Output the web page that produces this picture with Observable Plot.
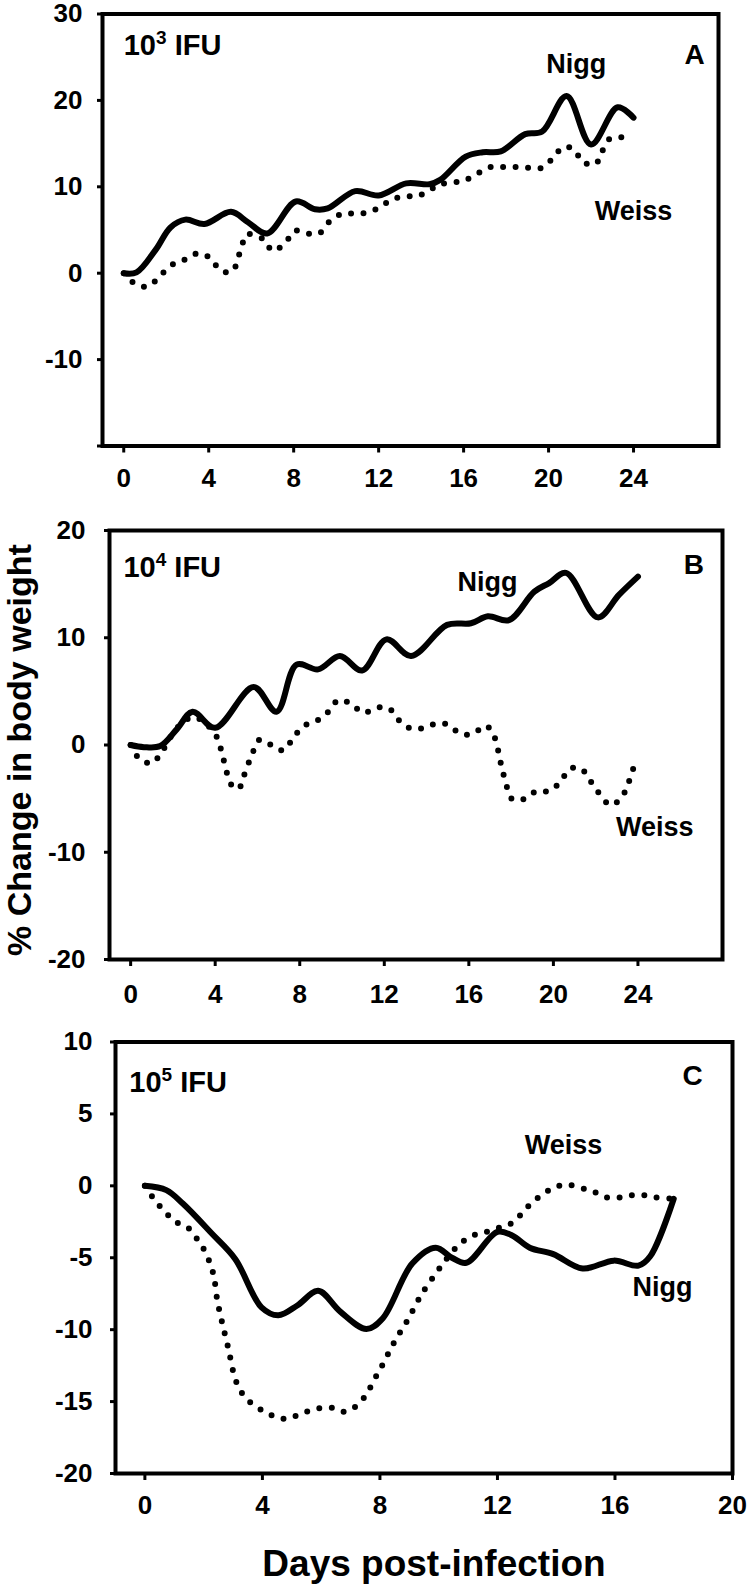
<!DOCTYPE html>
<html>
<head>
<meta charset="utf-8">
<script src="https://cdn.jsdelivr.net/npm/d3@7"></script>
<script src="https://cdn.jsdelivr.net/npm/@observablehq/plot@0.6"></script>
<style>
  body { margin: 0; background: #fff; }
  #root { position: relative; width: 750px; height: 1588px; font-family: "Liberation Sans", Arial, sans-serif; font-weight: bold; color: #000; }
  .panel { position: absolute; left: 0; }
  .ytitle { position: absolute; white-space: nowrap; font-size: 34px; line-height: 34px; transform: translate(-50%, -50%) rotate(-90deg); z-index: 5; }
  .xtitle { position: absolute; white-space: nowrap; font-size: 37px; line-height: 37px; transform: translateX(-50%); z-index: 5; }
</style>
</head>
<body>
<div id="root"></div>
<script>
// ---------- Panel A: 10^3 IFU ----------
const daysNiggA = [0,0.6,1.5,2.2,2.9,3.8,5.05,5.85,6.75,8.1,9.0,9.6,10.9,12.0,13.3,14.4,14.9,16.1,16.9,17.75,18.9,19.7,20.85,22.0,23.25,24];
const pctNiggA  = [0,0.1,2.7,5.3,6.2,5.7,7.1,5.9,4.6,8.3,7.4,7.5,9.5,9.0,10.4,10.3,10.8,13.5,14.0,14.1,16.1,16.4,20.5,14.9,19.2,18.0];
const daysWeissA = [0,0.6,1.17,1.75,2.3,2.9,3.5,4.05,4.55,5.1,5.55,5.8,6.6,7.0,7.6,8.05,8.65,9.2,9.7,10.3,10.9,11.45,12.1,12.6,13.25,13.8,14.4,14.9,15.55,16.1,16.7,17.3,17.9,18.5,19.1,19.7,20.2,20.7,21.2,21.6,22.2,22.5,22.9,23.6];
const pctWeissA  = [0,-1.35,-1.5,-0.2,1.0,1.6,2.3,1.8,0.35,0.2,3.1,4.5,3.9,2.6,3.5,4.9,4.6,4.6,6.0,6.9,6.9,7.0,7.7,8.5,8.9,8.9,9.6,10.3,10.5,10.8,11.6,12.3,12.3,12.3,12.2,12.2,13.3,14.6,14.3,12.9,12.6,14.0,15.6,15.7];

// ---------- Panel B: 10^4 IFU ----------
const daysNiggB = [0,0.63,1.4,2.2,2.93,4.0,5.82,6.9,7.85,8.87,9.9,10.95,12.1,13.27,14.97,16.1,16.9,17.9,19.1,19.8,20.6,22.1,23.1,24];
const pctNiggB  = [0,-0.2,-0.1,1.5,3.1,1.6,5.4,3.1,7.5,7.05,8.3,6.95,9.85,8.3,11.2,11.35,12.0,11.65,14.3,15.1,16.05,11.9,14.0,15.7];
const daysWeissB = [0,0.4,1.0,1.47,2.2,3.0,4.0,4.4,4.76,5.1,5.37,5.8,6.1,6.66,7.24,7.7,8.2,8.75,9.3,9.84,10.45,11.0,11.6,12.2,12.7,13.3,13.9,14.45,15.0,15.6,16.2,16.8,17.2,17.5,17.8,18.05,18.6,19.2,19.8,20.3,20.8,21.3,21.8,22.2,22.7,23.2,23.5,23.9];
const pctWeissB  = [0,-1.25,-1.7,-0.65,1.6,2.6,1.0,-1.4,-3.7,-4.1,-2.8,-0.6,0.5,0.0,-0.5,0.7,1.8,2.2,3.0,4.2,3.8,3.0,3.45,3.45,2.3,1.5,1.6,2.0,1.9,1.05,1.05,1.8,0.8,-1.6,-3.9,-5.05,-5.05,-4.3,-4.3,-3.5,-2.2,-2.2,-3.5,-4.6,-5.6,-4.95,-3.8,-1.4];

// ---------- Panel C: 10^5 IFU ----------
const daysNiggC = [0,0.73,1.3,2.27,3.08,3.97,4.54,5.2,5.9,6.65,7.54,8.1,9.1,9.9,10.45,10.94,12.0,12.5,13.1,13.9,14.9,15.96,16.8,17.2,18.0];
const pctNiggC  = [0,-0.3,-1.25,-3.3,-5.1,-8.45,-9.0,-8.3,-7.3,-8.75,-9.95,-9.2,-5.4,-4.3,-5.0,-5.35,-3.2,-3.45,-4.3,-4.75,-5.75,-5.2,-5.55,-4.9,-0.9];
const daysWeissC = [0,0.32,0.68,1.05,1.46,1.78,2.03,2.22,2.35,2.46,2.64,2.84,3.03,3.19,3.45,3.86,4.26,4.7,5.07,5.5,5.96,6.43,6.8,7.2,7.54,7.8,8.05,8.48,8.95,9.43,9.97,10.3,10.66,11.1,11.54,12.0,12.4,12.75,13.13,13.6,14.0,14.4,14.88,15.27,15.7,16.2,16.6,17.0,17.4,18.0];
const pctWeissC  = [0,-0.95,-1.8,-2.5,-2.9,-3.7,-4.5,-5.4,-6.3,-7.9,-9.6,-11.3,-13.1,-14.0,-14.8,-15.45,-15.9,-16.2,-16.05,-15.7,-15.45,-15.45,-15.7,-15.3,-14.5,-13.5,-12.6,-10.9,-9.3,-7.5,-5.9,-5.0,-4.15,-3.5,-3.25,-2.95,-2.7,-2.1,-1.25,-0.5,-0.05,0.07,-0.17,-0.4,-0.8,-0.8,-0.65,-0.65,-0.8,-0.9];

// Tick values
const xTicksAB = [0,4,8,12,16,20,24];
const xTicksC  = [0,4,8,12,16,20];
const yTicksA  = [-20,-10,0,10,20,30];
const yTicksB  = [-20,-10,0,10,20];
const yTicksC  = [-20,-15,-10,-5,0,5,10];

// Text
const panelLetters = ["A","B","C"];
const doseExponents = ["3","4","5"];
const yTitle = "% Change in body weight";
const xTitle = "Days post-infection";

const zip = (days, pct) => days.map((d, i) => ({day: d, pct: pct[i]}));

const FONT = "'Liberation Sans', Arial, Helvetica, sans-serif";

function makePanel(cfg) {
  const svg = Plot.plot({
    width: 750,
    height: cfg.height,
    marginLeft: cfg.left,
    marginRight: 750 - cfg.right,
    marginTop: cfg.frameTop,
    marginBottom: cfg.height - cfg.frameBottom,
    x: {domain: cfg.xDomain},
    y: {domain: cfg.yDomain},
    style: `font-family:${FONT};font-size:26px;font-weight:bold;color:#000;background:transparent;overflow:visible;`,
    marks: [
      Plot.line(cfg.weiss, {x: "day", y: "pct", curve: "catmull-rom", stroke: "#000", strokeWidth: 6, strokeDasharray: "0 12.5", strokeLinecap: "round"}),
      Plot.line(cfg.nigg, {x: "day", y: "pct", curve: "catmull-rom", stroke: "#000", strokeWidth: 6, strokeLinejoin: "round", strokeLinecap: "round"}),
      Plot.frame({stroke: "#000", strokeWidth: 4}),
      Plot.axisX({ticks: cfg.xTicks, tickSize: 7, tickPadding: cfg.xPad, strokeWidth: 3, label: null, tickFormat: d => String(d)}),
      Plot.axisY({ticks: cfg.yTicks, tickSize: 5, tickPadding: cfg.yPad, strokeWidth: 3, label: null, tickFormat: cfg.yFormat || (d => String(d))}),
      Plot.text(cfg.labels, {x: "x", y: "y", text: "text", textAnchor: "middle", lineAnchor: "middle", fontSize: 27, fontWeight: "bold"}),
      Plot.text([cfg.ifu], {x: "x", y: "y", text: d => "10|IFU", textAnchor: "start", lineAnchor: "middle", fontSize: 29, fontWeight: "bold"}),
      Plot.text([cfg.letter], {x: "x", y: "y", text: "text", textAnchor: "middle", lineAnchor: "middle", fontSize: 28, fontWeight: "bold"})
    ]
  });
  // superscript for dose label
  d3.select(svg).selectAll("text").filter(function() { return this.textContent === "10|IFU"; }).each(function() {
    const t = d3.select(this);
    t.text(null);
    t.append("tspan").text("10");
    t.append("tspan").attr("dy", -11).attr("font-size", 19).text(cfg.exp);
    t.append("tspan").attr("dy", 11).text("\u00a0IFU");
  });
  svg.classList.add("panel");
  svg.style.top = cfg.top + "px";
  svg.style.position = "absolute";
  return svg;
}

const root = document.getElementById("root");

root.appendChild(makePanel({
  top: 0, height: 500, left: 102, right: 718, frameTop: 13.5, frameBottom: 445.5,
  xDomain: [-1, 28], yDomain: [-20, 30], xTicks: xTicksAB, yTicks: yTicksA,
  yFormat: d => d === -20 ? "" : String(d), xPad: 16, yPad: 15,
  nigg: zip(daysNiggA, pctNiggA), weiss: zip(daysWeissA, pctWeissA),
  labels: [{x: 21.3, y: 24.2, text: "Nigg"}, {x: 24.0, y: 7.2, text: "Weiss"}],
  ifu: {x: 0.0, y: 26.3}, exp: doseExponents[0],
  letter: {x: 26.88, y: 25.2, text: panelLetters[0]}
}));

root.appendChild(makePanel({
  top: 500, height: 510, left: 109, right: 722, frameTop: 30, frameBottom: 459,
  xDomain: [-1, 28], yDomain: [-20, 20], xTicks: xTicksAB, yTicks: yTicksB,
  xPad: 18, yPad: 19,
  nigg: zip(daysNiggB, pctNiggB), weiss: zip(daysWeissB, pctWeissB),
  labels: [{x: 16.88, y: 15.2, text: "Nigg"}, {x: 24.8, y: -7.7, text: "Weiss"}],
  ifu: {x: -0.34, y: 16.55}, exp: doseExponents[1],
  letter: {x: 26.65, y: 16.8, text: panelLetters[1]}
}));

root.appendChild(makePanel({
  top: 1010, height: 510, left: 115, right: 732, frameTop: 31.5, frameBottom: 463,
  xDomain: [-1, 20], yDomain: [-20, 10], xTicks: xTicksC, yTicks: yTicksC,
  xPad: 15, yPad: 18,
  nigg: zip(daysNiggC, pctNiggC), weiss: zip(daysWeissC, pctWeissC),
  labels: [{x: 17.62, y: -7.04, text: "Nigg"}, {x: 14.25, y: 2.8, text: "Weiss"}],
  ifu: {x: -0.53, y: 7.2}, exp: doseExponents[2],
  letter: {x: 18.64, y: 7.6, text: panelLetters[2]}
}));

const yt = document.createElement("div");
yt.className = "ytitle";
yt.style.left = "19px";
yt.style.top = "750px";
yt.textContent = yTitle;
root.appendChild(yt);

const xt = document.createElement("div");
xt.className = "xtitle";
xt.style.left = "434px";
xt.style.top = "1545px";
xt.textContent = xTitle;
root.appendChild(xt);
</script>
</body>
</html>
